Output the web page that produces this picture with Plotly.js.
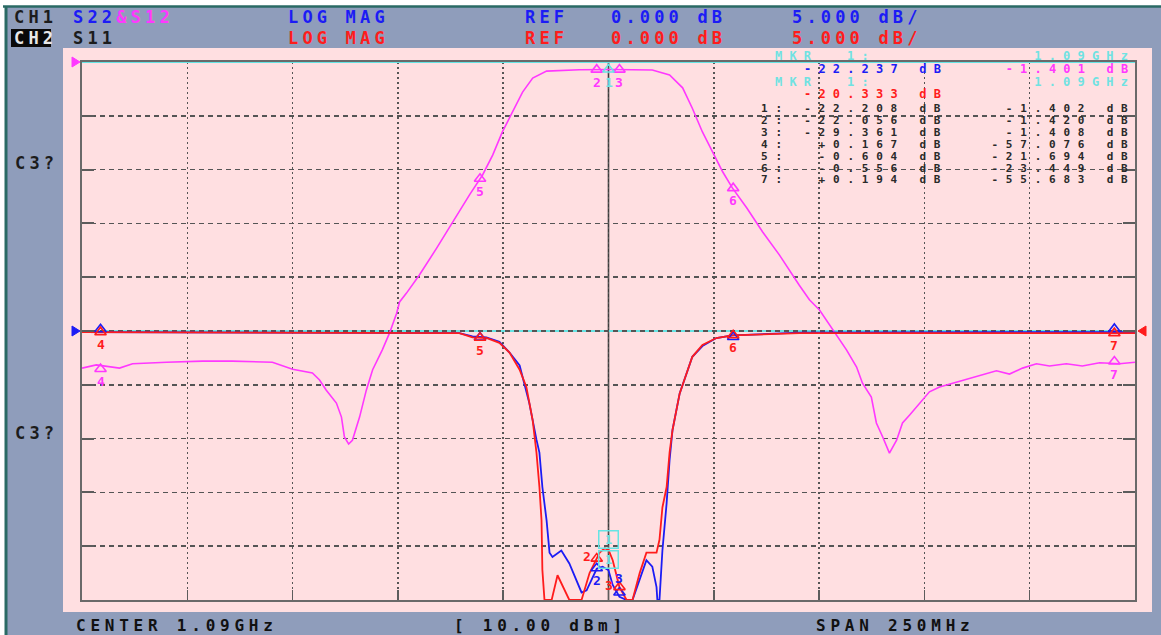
<!DOCTYPE html>
<html><head><meta charset="utf-8">
<script src="https://cdn.plot.ly/plotly-3.0.1.min.js"></script>
<style>html,body{margin:0;padding:0;background:#fff;}#chart{width:1161px;height:635px;}</style>
</head><body><div id="chart"></div>
<script>
// ---------------- DATA ----------------
const centerMHz = 1090;
const spanMHz = 250;
const powerDBm = 10.00;

// CH1 S12 (transmission), dB
const s12Freq = [965.0,968.4,973.9,977.0,985.1,993.6,1000.7,1007.1,1010.2,1015.0,1019.7,1021.4,1023.0,1025.4,1026.6,1027.3,1028.3,1029.2,1030.9,1032.5,1034.0,1036.3,1038.0,1039.7,1040.4,1042.0,1045.1,1049.2,1053.0,1057.0,1060.1,1062.5,1064.8,1067.2,1069.6,1072.0,1075.3,1083.1,1091.0,1100.4,1104.5,1107.6,1109.9,1112.3,1114.7,1117.1,1119.4,1122.8,1126.6,1130.6,1135.3,1137.7,1140.1,1143.2,1146.5,1148.9,1150.3,1152.4,1153.6,1155.1,1156.7,1158.4,1159.8,1161.5,1163.8,1166.2,1168.6,1171.7,1175.0,1178.8,1182.1,1185.2,1188.3,1191.6,1194.7,1198.7,1202.5,1206.6,1211.3,1215.0];
const s12dB = [-56.9,-56.3,-56.9,-56.1,-55.8,-55.6,-55.6,-55.8,-55.8,-57.1,-57.8,-59.1,-61.0,-63.4,-66.0,-69.7,-71.0,-70.3,-66.0,-61.0,-57.2,-53.5,-50.4,-46.7,-44.6,-43.0,-39.6,-34.6,-29.7,-24.7,-21.0,-17.3,-13.0,-9.3,-5.6,-3.0,-1.7,-1.45,-1.4,-1.5,-2.4,-4.8,-8.6,-13.0,-16.7,-20.4,-23.4,-27.1,-31.6,-35.9,-41.5,-44.2,-46.1,-49.8,-53.5,-56.7,-59.7,-62.3,-67.1,-69.7,-72.7,-70.3,-67.1,-65.6,-63.4,-61.3,-60.4,-59.7,-59.1,-58.2,-57.4,-58.0,-56.9,-56.1,-56.5,-56.1,-56.5,-55.9,-56.1,-55.8];

// CH1 S22 (blue), dB
const s22Freq = [965.0,1054.6,1057.7,1061.0,1064.1,1066.5,1068.9,1071.2,1072.9,1073.6,1074.3,1075.3,1076.0,1076.7,1078.8,1080.7,1083.6,1084.8,1087.2,1088.6,1090.0,1091.0,1092.6,1094.3,1095.7,1097.4,1099.0,1100.4,1101.4,1101.6,1102.1,1102.8,1103.8,1104.5,1105.2,1106.9,1108.5,1109.9,1112.3,1115.6,1119.4,1135.3,1215.0];
const s22dB = [-0.1,-0.2,-0.5,-0.6,-1.0,-2.0,-3.2,-6.7,-10.1,-11.3,-14.5,-17.6,-20.6,-21.0,-20.4,-21.6,-24.3,-24.1,-22.1,-21.9,-22.24,-23.6,-24.7,-25.0,-25.0,-23.1,-21.3,-21.9,-23.8,-25.0,-25.0,-20.4,-16.0,-12.0,-9.2,-5.8,-3.9,-2.4,-1.4,-0.65,-0.4,-0.15,-0.1];

// CH2 S11 (red), dB
const s11Freq = [965.0,1040.4,1054.6,1057.7,1061.0,1064.1,1066.5,1068.9,1070.5,1072.0,1072.9,1073.6,1074.1,1074.3,1074.8,1076.5,1077.9,1080.7,1083.6,1085.5,1087.9,1089.1,1090.0,1091.0,1092.6,1094.3,1095.7,1097.4,1099.0,1101.4,1102.1,1102.8,1103.8,1104.5,1105.2,1106.9,1108.5,1109.9,1112.3,1115.6,1119.4,1135.3,1215.0];
const s11dB = [-0.1,-0.2,-0.2,-0.6,-0.65,-1.1,-2.0,-3.6,-5.2,-8.3,-11.3,-14.5,-17.6,-22.2,-25.0,-25.0,-22.7,-25.0,-25.0,-22.5,-20.6,-20.2,-20.33,-21.3,-23.8,-25.0,-25.0,-22.5,-20.6,-20.6,-19.4,-16.4,-14.5,-11.3,-9.2,-5.8,-3.9,-2.4,-1.3,-0.65,-0.4,-0.2,-0.2];

// Markers
const markerIds = [1,2,3,4,5,6,7];
const markerFreq = [1090.0,1087.2,1092.6,969.4,1059.5,1119.6,1210.1];
const markerS22 = [-22.208,-22.056,-29.361,0.167,-0.604,-0.556,0.194];
const markerS12 = [-1.402,-1.420,-1.408,-57.076,-21.694,-23.449,-55.683];
const activeS22 = -22.237, activeS12 = -1.401, activeS11 = -20.333;

// ---------------- STYLE ----------------
const MONO = 'DejaVu Sans Mono';
const PITCH = 14.4;
const BLUE = '#1c1cf5', RED = '#ff1c1c', MAG = '#ff38ff', CYAN = '#66e4e4', CYANT = '#70e2e2', DARK = '#1c1c1c';
const L = 82, R = 1135, T = 62, B = 600;
const px = x => (x - L) / (R - L);
const py = y => (B - y) / (B - T);
const CLAMP2 = -24.3;

const annotations = [];
const spacing = [];
function txt(t, x, y, size, color, extra) {
  annotations.push(Object.assign({text: t, xref: 'paper', yref: 'paper', x: px(x), y: py(y),
    xanchor: 'left', yanchor: 'middle', align: 'left', showarrow: false, borderpad: 0,
    font: {family: MONO, size: size, color: color, weight: 'bold'}}, extra || {}));
  spacing.push(PITCH - 0.602 * size);
}
const sp = n => '\u00a0'.repeat(n);
const fmt = v => (v >= 0 ? '+' : '-') + Math.abs(v).toFixed(3);
const pad7 = v => { const s = fmt(v); return sp(7 - s.length) + s; };
const f3 = v => v.toFixed(3);

// header
txt('CH1', 13, 17, 17, DARK);
txt('S22<span style="color:' + MAG + '">&amp;S12</span>', 72, 17, 17, BLUE);
txt('LOG' + sp(1) + 'MAG', 287, 17, 17, BLUE);
txt('REF', 524, 17, 17, BLUE);
txt(f3(0) + sp(1) + 'dB', 610, 17, 17, BLUE);
txt(f3(5) + sp(1) + 'dB/', 791, 17, 17, BLUE);
txt('CH2', 13, 38, 17, '#e8e8e8');
txt('S11', 72, 38, 17, DARK);
txt('LOG' + sp(1) + 'MAG', 287, 38, 17, RED);
txt('REF', 524, 38, 17, RED);
txt(f3(0) + sp(1) + 'dB', 610, 38, 17, RED);
txt(f3(5) + sp(1) + 'dB/', 791, 38, 17, RED);
txt('C3?', 14, 163, 17, DARK);
txt('C3?', 14, 433, 17, DARK);
// footer
txt('CENTER' + sp(1) + (centerMHz / 1000).toFixed(2) + 'GHz', 75, 625, 16, '#111');
txt('[' + sp(1) + powerDBm.toFixed(2) + sp(1) + 'dBm]', 453, 625, 16, '#111');
txt('SPAN' + sp(1) + spanMHz + 'MHz', 815, 625, 16, '#111');

// marker readout block
const x0 = 760;
const TS = 11;
const mkrLine = 'MKR' + sp(2) + '1:' + sp(11) + (markerFreq[0] / 1000).toFixed(2) + 'GHz';
txt(mkrLine, x0 + PITCH, 56, 12, CYANT);
txt('<span style="color:' + BLUE + '">' + pad7(activeS22).replace(/^\u00a0+/, '') + sp(1) + 'dB</span>' + sp(3) +
    '<span style="color:' + MAG + '">' + pad7(activeS12) + sp(1) + 'dB</span>', x0 + 3 * PITCH, 69, 12, BLUE);
txt(mkrLine, x0 + PITCH, 82, 12, CYANT);
txt(pad7(activeS11) + sp(1) + 'dB', x0 + 3 * PITCH, 94, 12, RED);
markerIds.forEach((id, i) => {
  const row = id + ':' + sp(1) + pad7(markerS22[i]) + sp(1) + 'dB' + sp(3) + pad7(markerS12[i]) + sp(1) + 'dB';
  txt(row, x0, 108.5 + 11.9 * i, TS, '#2a2a2a');
});

// marker positions on traces
function interp(xs, ys, x) {
  for (let k = 1; k < xs.length; k++) {
    if (x <= xs[k]) { const t = (x - xs[k - 1]) / (xs[k] - xs[k - 1]); return ys[k - 1] + t * (ys[k] - ys[k - 1]); }
  }
  return ys[ys.length - 1];
}
const s11Mkr = markerFreq.map((f, i) => i === 0 ? activeS11 : interp(s11Freq, s11dB, f));
const s22Disp = markerS22.map(v => Math.max(v, CLAMP2));

// where: 'below' | 'above' | 'left'
function digit(f, y, id, color, yref, where) {
  const a = {xref: 'x', yref: yref, x: f, y: y, showarrow: false, borderpad: 0, text: String(id),
    font: {family: MONO, size: 13, color: color, weight: 'bold'}};
  if (where === 'above') Object.assign(a, {xanchor: 'center', yanchor: 'bottom', yshift: 5});
  else if (where === 'left') Object.assign(a, {xanchor: 'right', yanchor: 'middle', xshift: -5, yshift: 2});
  else Object.assign(a, {xanchor: 'center', yanchor: 'top', yshift: -4});
  annotations.push(a);
  spacing.push(0);
}
markerIds.forEach((id, i) => {
  if (id === 1) return;
  digit(markerFreq[i], markerS12[i], id, MAG, 'y', 'below');
  if (i < 3) digit(markerFreq[i], s22Disp[i], id, BLUE, 'y2', markerS22[i] < CLAMP2 ? 'above' : 'below');
  digit(markerFreq[i], s11Mkr[i], id, RED, 'y2', i < 3 ? 'left' : 'below');
});
digit(markerFreq[0], markerS12[0], 1, CYANT, 'y', 'below');
[activeS11, activeS22].forEach(v => {
  annotations.push({xref: 'x', yref: 'y2', x: markerFreq[0], y: v, xanchor: 'center', yanchor: 'bottom', yshift: 1,
    showarrow: false, text: '1', bordercolor: CYAN, borderwidth: 1.5, borderpad: 1, width: 16, height: 14,
    font: {family: MONO, size: 12, color: CYANT, weight: 'bold'}});
  spacing.push(0);
});

// ---------------- SHAPES ----------------
const shapes = [
  {type: 'rect', xref: 'paper', yref: 'paper', x0: px(7), x1: px(1161), y0: py(635), y1: py(7), fillcolor: '#8f9dbb', line: {width: 0}, layer: 'below'},
  {type: 'rect', xref: 'paper', yref: 'paper', x0: px(63), x1: px(1152), y0: py(612), y1: py(48), fillcolor: '#ffdfe1', line: {width: 0}, layer: 'below'},
  {type: 'line', xref: 'paper', yref: 'paper', x0: px(3), x1: px(1161), y0: py(6.5), y1: py(6.5), line: {color: '#2a6a64', width: 2.5}, layer: 'below'},
  {type: 'line', xref: 'paper', yref: 'paper', x0: px(6), x1: px(6), y0: py(6), y1: py(635), line: {color: '#2a6a64', width: 3}, layer: 'below'},
  {type: 'line', xref: 'x', yref: 'paper', x0: centerMHz, x1: centerMHz, y0: 0, y1: 1, line: {color: '#3c3c3c', width: 1.6}, layer: 'below'},
  {type: 'line', xref: 'paper', yref: 'y', x0: 0, x1: 1, y0: 0, y1: 0, line: {color: CYAN, width: 2}, layer: 'above'},
  {type: 'line', xref: 'paper', yref: 'y2', x0: 0, x1: 1, y0: 0, y1: 0, line: {color: CYAN, width: 2}, layer: 'below'},
  {type: 'path', xref: 'paper', yref: 'paper', path: `M ${px(72)} ${py(57)} L ${px(80)} ${py(62)} L ${px(72)} ${py(67)} Z`, fillcolor: MAG, line: {color: MAG, width: 1}, layer: 'above'},
  {type: 'path', xref: 'paper', yref: 'paper', path: `M ${px(72)} ${py(326)} L ${px(80)} ${py(331)} L ${px(72)} ${py(336)} Z`, fillcolor: BLUE, line: {color: BLUE, width: 1}, layer: 'above'},
  {type: 'path', xref: 'paper', yref: 'paper', path: `M ${px(1146)} ${py(326)} L ${px(1138)} ${py(331)} L ${px(1146)} ${py(336)} Z`, fillcolor: RED, line: {color: RED, width: 1}, layer: 'above'},
  {type: 'rect', xref: 'paper', yref: 'paper', x0: px(11), x1: px(51), y0: py(47), y1: py(29), fillcolor: '#0a0a0a', line: {width: 0}, layer: 'above'}
];

// ---------------- TRACES ----------------
const tri = (color) => ({symbol: 'triangle-up-open', size: 10, color: color, line: {color: color, width: 1.6}});
const rest = [1,2,3,4,5,6];
const traces = [
  {type: 'scatter', mode: 'lines', x: s12Freq, y: s12dB, yaxis: 'y', line: {color: MAG, width: 1.6}, name: 'S12'},
  {type: 'scatter', mode: 'lines', x: s22Freq, y: s22dB, yaxis: 'y2', line: {color: BLUE, width: 1.8}, name: 'S22'},
  {type: 'scatter', mode: 'lines', x: s11Freq, y: s11dB, yaxis: 'y2', line: {color: RED, width: 1.8}, name: 'S11'},
  {type: 'scatter', mode: 'markers', x: rest.map(i => markerFreq[i]), y: rest.map(i => markerS12[i]), yaxis: 'y', marker: tri(MAG), cliponaxis: false, name: 'S12 markers'},
  {type: 'scatter', mode: 'markers', x: [markerFreq[0]], y: [markerS12[0]], yaxis: 'y', marker: tri(CYAN), cliponaxis: false, name: 'S12 marker 1'},
  {type: 'scatter', mode: 'markers', x: rest.map(i => markerFreq[i]), y: rest.map(i => s22Disp[i]), yaxis: 'y2', marker: tri(BLUE), cliponaxis: false, name: 'S22 markers'},
  {type: 'scatter', mode: 'markers', x: rest.map(i => markerFreq[i]), y: rest.map(i => s11Mkr[i]), yaxis: 'y2', marker: tri(RED), cliponaxis: false, name: 'S11 markers'}
];

const layout = {
  width: 1161, height: 635,
  margin: {l: L, r: 1161 - R, t: T, b: 635 - B, pad: 0},
  paper_bgcolor: '#ffffff', plot_bgcolor: '#ffdfe1',
  showlegend: false,
  xaxis: {range: [centerMHz - spanMHz / 2, centerMHz + spanMHz / 2], tick0: centerMHz - spanMHz / 2, dtick: spanMHz / 10,
    showticklabels: false, showgrid: true, gridcolor: '#555555', gridwidth: 1.6, griddash: '2px,3px',
    ticks: 'inside', ticklen: 10, tickwidth: 1.5, tickcolor: '#5c5c5c',
    showline: true, linecolor: '#6a6a6a', linewidth: 2, mirror: true, zeroline: false, fixedrange: true},
  yaxis: {range: [-100, 0], tick0: 0, dtick: 10, showticklabels: false, showgrid: true, gridcolor: '#555555', gridwidth: 1.6,
    griddash: '5px,4px', ticks: 'inside', ticklen: 12, tickwidth: 2, tickcolor: '#5c5c5c',
    showline: true, linecolor: '#6a6a6a', linewidth: 2, mirror: 'ticks', zeroline: false, fixedrange: true},
  yaxis2: {range: [-25, 25], overlaying: 'y', showgrid: false, zeroline: false, showticklabels: false, ticks: '', showline: false, fixedrange: true},
  shapes: shapes,
  annotations: annotations
};

Plotly.newPlot('chart', traces, layout, {staticPlot: true, displayModeBar: false}).then(gd => {
  gd.querySelectorAll('g.annotation').forEach(g => {
    const i = +g.getAttribute('data-index');
    const ls = spacing[i];
    if (ls) {
      const t = g.querySelector('text.annotation-text');
      if (t) t.style.letterSpacing = ls.toFixed(2) + 'px';
    }
  });
});
</script>
</body></html>
